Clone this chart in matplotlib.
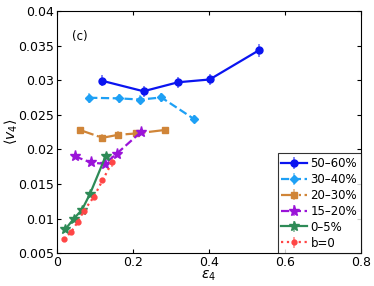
import matplotlib
matplotlib.use("Agg")
import matplotlib.pyplot as plt
import numpy as np
from matplotlib.colors import to_rgba

labels = ["50\u201360%", "30\u201340%", "20\u201330%", "15\u201320%", "0\u20135%", "b=0"]

x_5060 = [0.120, 0.228, 0.319, 0.402, 0.531]
y_5060 = [0.0299, 0.0284, 0.0297, 0.0301, 0.0343]
e_5060 = [0.0008, 0.0008, 0.0008, 0.0008, 0.0009]

x_3040 = [0.085, 0.164, 0.220, 0.275, 0.360]
y_3040 = [0.02746, 0.02737, 0.0272, 0.0275, 0.02442]
e_3040 = [0.0007, 0.0006, 0.0006, 0.0006, 0.0006]

x_2030 = [0.061, 0.120, 0.161, 0.209, 0.284]
y_2030 = [0.02279, 0.02167, 0.0221, 0.0223, 0.0228]
e_2030 = [0.0005, 0.0005, 0.0005, 0.0005, 0.0005]

x_1520 = [0.047, 0.089, 0.126, 0.158, 0.222]
y_1520 = [0.0190, 0.0181, 0.0179, 0.0194, 0.02254]
e_1520 = [0.0004, 0.0004, 0.0004, 0.0004, 0.0004]

x_005 = [0.022, 0.045, 0.066, 0.087, 0.129]
y_005 = [0.00843, 0.0100, 0.01126, 0.01353, 0.0191]
e_005 = [0.0002, 0.0002, 0.0002, 0.0002, 0.0003]

x_b0 = [0.019, 0.038, 0.055, 0.071, 0.097, 0.120, 0.146]
y_b0 = [0.0070, 0.0081, 0.0095, 0.0111, 0.0131, 0.0155, 0.0182]
e_b0 = [0.0002, 0.0002, 0.0002, 0.0002, 0.0002, 0.0003, 0.0008]

series = [
    (x_5060, y_5060, e_5060, "#0a14f0", "-", "o", 5),
    (x_3040, y_3040, e_3040, "#1ea0f5", "--", "D", 4),
    (x_2030, y_2030, e_2030, "#d08538", "-.", "s", 4.5),
    (x_1520, y_1520, e_1520, "#9a14d8", "--", "*", 8),
    (x_005, y_005, e_005, "#2e8b57", "-", "*", 7),
    (x_b0, y_b0, e_b0, "#ff4545", ":", "o", 3.5),
]

fig = plt.figure(figsize=(3.74, 2.86), dpi=100)
ax = fig.add_axes([0.152, 0.115, 0.813, 0.8465])

for (xs, ys, es, c, ls, mk, ms), lab in zip(series, labels):
    ax.errorbar(xs, ys, yerr=es, color=c, ecolor=to_rgba(c, 0.6), elinewidth=1.2,
                capsize=0, linestyle=ls, linewidth=1.6, marker=mk, markersize=ms,
                label=lab)

ax.set_xlim(0, 0.8)
ax.set_ylim(0.005, 0.04)
ax.set_xticks([0, 0.2, 0.4, 0.6, 0.8])
ax.set_xticklabels(["0", "0.2", "0.4", "0.6", "0.8"])
ax.set_yticks([0.005, 0.01, 0.015, 0.02, 0.025, 0.03, 0.035, 0.04])
ax.set_yticklabels(["0.005", "0.01", "0.015", "0.02", "0.025", "0.03", "0.035", "0.04"])
ax.tick_params(direction="in", top=True, right=True, labelsize=9, length=3, pad=2)
ax.set_xlabel(r"$\varepsilon_4$", fontsize=10, labelpad=0)
ax.set_ylabel(r"$\langle v_4\rangle$", fontsize=10)
ax.yaxis.set_label_coords(-0.12, 0.5)
ax.text(0.05, 0.88, "(c)", transform=ax.transAxes, fontsize=8.5)

leg = ax.legend(loc="lower right", fontsize=8.5, frameon=True, fancybox=False,
                borderaxespad=0.0, handlelength=2.2, labelspacing=0.25,
                handletextpad=0.3, borderpad=0.3)
leg.get_frame().set_edgecolor("black")
leg.get_frame().set_linewidth(0.8)

fig.savefig("out.png", dpi=100)
